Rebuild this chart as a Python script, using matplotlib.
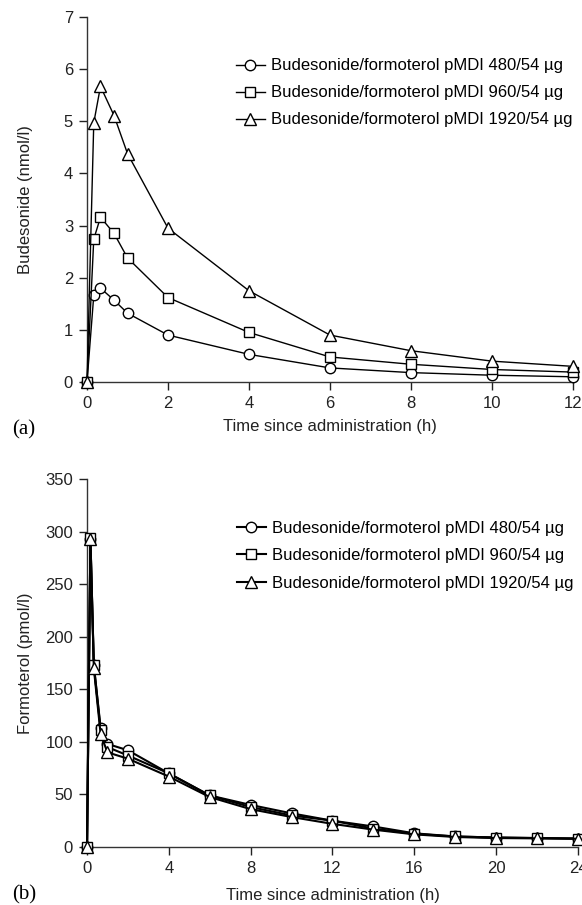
import matplotlib
matplotlib.use("Agg")
import matplotlib.pyplot as plt

plt.rcParams['font.family'] = ['Liberation Sans', 'DejaVu Sans']

labels = ['Budesonide/formoterol pMDI 480/54 µg',
          'Budesonide/formoterol pMDI 960/54 µg',
          'Budesonide/formoterol pMDI 1920/54 µg']
markers = ['o', 's', '^']

# (a) budesonide, nmol/l
t_bud = [0, 0.167, 0.333, 0.667, 1, 2, 4, 6, 8, 10, 12]
bud_480 = [0, 1.66, 1.80, 1.57, 1.32, 0.90, 0.53, 0.27, 0.18, 0.13, 0.10]
bud_960 = [0, 2.74, 3.16, 2.85, 2.38, 1.62, 0.95, 0.48, 0.34, 0.24, 0.19]
bud_1920 = [0, 4.97, 5.67, 5.11, 4.38, 2.95, 1.75, 0.90, 0.60, 0.40, 0.30]

# (b) formoterol, pmol/l
t_form = [0, 0.167, 0.333, 0.667, 1, 2, 4, 6, 8, 10, 12, 14, 16, 18, 20, 22, 24]
form_480 = [0, 293, 173, 113, 98, 92, 70, 49, 40, 32, 25, 19.5, 13, 10, 9, 8.5, 8]
form_960 = [0, 294, 173, 111, 95, 87, 70, 49, 38, 30, 25, 17.5, 12.5, 10, 9, 8.5, 8]
form_1920 = [0, 293, 170, 107, 90, 84, 67, 47.5, 36, 28.5, 22, 16.5, 12, 9.5, 8.5, 8.2, 7.8]

FS = 12

fig = plt.figure(figsize=(5.82, 9.05), dpi=100)
ax1 = fig.add_axes([0.1495, 0.5779, 0.835, 0.4033])
ax2 = fig.add_axes([0.1495, 0.0641, 0.8436, 0.4066])


def style(ax):
    for s in ['top', 'right']:
        ax.spines[s].set_visible(False)
    for s in ['left', 'bottom']:
        ax.spines[s].set_linewidth(1.0)
        ax.spines[s].set_color('#333333')
    ax.tick_params(direction='out', length=6, width=1.0, labelsize=FS,
                   colors='#222222', pad=4)


for ys, m, lab in zip([bud_480, bud_960, bud_1920], markers, labels):
    ax1.plot(t_bud, ys, marker=m, color='black', lw=1.0, ms=7.5 if m != '^' else 8.5,
             mfc='white', mec='black', mew=1.0, label=lab, clip_on=False, zorder=3)
ax1.set_xlim(0, 12)
ax1.set_ylim(0, 7)
ax1.set_xticks(range(0, 13, 2))
ax1.set_yticks(range(0, 8))
ax1.set_xlabel('Time since administration (h)', fontsize=FS, color='#222222', labelpad=6)
ax1.set_ylabel('Budesonide (nmol/l)', fontsize=FS, color='#222222')
ax1.yaxis.set_label_coords(-0.111, 0.5)
style(ax1)
ax1.legend(loc='upper left', bbox_to_anchor=(0.292, 0.905), frameon=False, fontsize=FS,
           handlelength=1.75, handletextpad=0.35, labelspacing=0.72, borderaxespad=0)

for ys, m, lab in zip([form_480, form_960, form_1920], markers, labels):
    ax2.plot(t_form, ys, marker=m, color='black', lw=1.5, ms=7.5 if m != '^' else 8.5,
             mfc='white', mec='black', mew=1.0, label=lab, clip_on=False, zorder=3)
ax2.set_xlim(0, 24)
ax2.set_ylim(0, 350)
ax2.set_xticks(range(0, 25, 4))
ax2.set_yticks(range(0, 351, 50))
ax2.set_xlabel('Time since administration (h)', fontsize=FS, color='#222222', labelpad=9)
ax2.set_ylabel('Formoterol (pmol/l)', fontsize=FS, color='#222222')
ax2.yaxis.set_label_coords(-0.110, 0.5)
style(ax2)
ax2.legend(loc='upper left', bbox_to_anchor=(0.291, 0.905), frameon=False, fontsize=FS,
           handlelength=1.75, handletextpad=0.35, labelspacing=0.75, borderaxespad=0)

fig.text(0.02, 1 - 430 / 905, '(a)', family='Liberation Serif', fontsize=15, va='center')
fig.text(0.02, 1 - 895 / 905, '(b)', family='Liberation Serif', fontsize=15, va='center')

fig.savefig('out.png', dpi=100)
